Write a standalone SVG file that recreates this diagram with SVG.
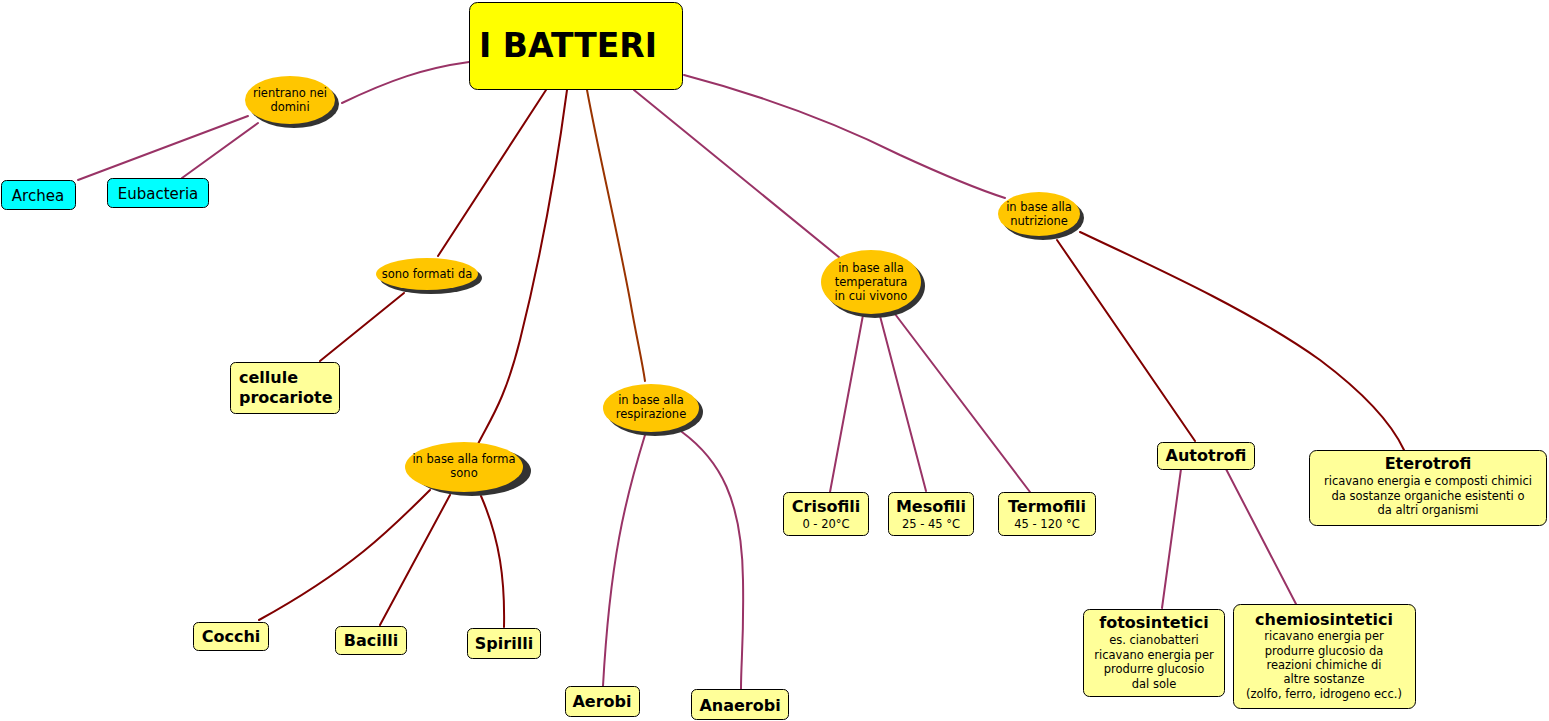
<svg xmlns="http://www.w3.org/2000/svg" width="1549" height="721" viewBox="0 0 1549 721">
<style>
text{font-family:"DejaVu Sans","Verdana",sans-serif;fill:#000}
.c{fill:none;stroke-width:2;stroke-linecap:round}
.p{stroke:#993366}
.r{stroke:#800000}
.b{stroke:#993300}
.ell{fill:#FFC600}
.sh{fill:#333333}
.box{fill:#FFFF99;stroke:#000;stroke-width:1}
.cy{fill:#00FFFF;stroke:#000;stroke-width:1}
.lt{font-size:11.5px;text-anchor:middle}
.bt{font-size:16px;font-weight:bold;text-anchor:middle}
.st{font-size:11.5px;text-anchor:middle}
</style>
<rect width="1549" height="721" fill="#fff"/>
<g id="connectors">
<path class="c p" d="M469,62 C425,68 390,80 342,103"/>
<path class="c p" d="M248,116 L78,180"/>
<path class="c p" d="M258,123 L182,178"/>
<path class="c r" d="M546,90 L438,256"/>
<path class="c r" d="M404,293 L320,361"/>
<path class="c r" d="M567,90 C555,180 540,260 520,340 C505,400 490,420 478,444"/>
<path class="c r" d="M430,490 C390,530 350,570 259,620"/>
<path class="c r" d="M450,495 L380,625"/>
<path class="c r" d="M481,496 C500,540 505,580 504,627"/>
<path class="c b" d="M587,90 C600,160 615,220 630,300 C637,340 642,360 645,381"/>
<path class="c p" d="M645,435 C625,500 610,560 603,686"/>
<path class="c p" d="M682,432 C720,460 742,500 743,580 C744,640 741,660 741,689"/>
<path class="c p" d="M634,90 L840,258"/>
<path class="c p" d="M863,315 L830,492"/>
<path class="c p" d="M880,316 L926,491"/>
<path class="c p" d="M895,314 L1030,492"/>
<path class="c p" d="M684,75 C760,95 830,120 900,155 C950,178 980,190 1005,198"/>
<path class="c r" d="M1057,240 L1195,441"/>
<path class="c r" d="M1080,232 C1150,265 1250,310 1320,360 C1360,390 1390,420 1404,450"/>
<path class="c p" d="M1181,469 L1162,608"/>
<path class="c p" d="M1226,469 L1296,604"/>
</g>
<g id="main">
<rect x="469.5" y="2.5" width="213" height="87" rx="8" fill="#FFFF00" stroke="#000" stroke-width="1"/>
<text x="479" y="57" style="font-size:33px;font-weight:bold">I BATTERI</text>
</g>
<g id="rientrano">
<ellipse class="sh" cx="294" cy="104" rx="45" ry="24"/>
<ellipse class="ell" cx="290" cy="100" rx="45" ry="24"/>
<text class="lt" x="290" y="97">rientrano nei</text>
<text class="lt" x="290" y="111">domini</text>
</g>
<g id="archea">
<rect class="cy" x="1.5" y="180.5" width="74" height="29" rx="5"/>
<text x="38" y="201" style="font-size:15px;text-anchor:middle">Archea</text>
</g>
<g id="eubacteria">
<rect class="cy" x="107.5" y="178.5" width="101" height="29" rx="5"/>
<text x="158" y="199" style="font-size:15px;text-anchor:middle">Eubacteria</text>
</g>
<g id="formati">
<ellipse class="sh" cx="431" cy="278" rx="51" ry="16"/>
<ellipse class="ell" cx="427" cy="274" rx="51" ry="16"/>
<text class="lt" x="427" y="278">sono formati da</text>
</g>
<g id="cellule">
<rect class="box" x="230.5" y="362.5" width="109" height="51" rx="5"/>
<text x="239" y="383" style="font-size:16px;font-weight:bold">cellule</text>
<text x="239" y="403" style="font-size:16px;font-weight:bold">procariote</text>
</g>
<g id="forma">
<ellipse class="sh" cx="472" cy="471" rx="59" ry="25"/>
<ellipse class="ell" cx="464" cy="467" rx="59" ry="25"/>
<text class="lt" x="464" y="463">in base alla forma</text>
<text class="lt" x="464" y="477">sono</text>
</g>
<g id="cocchi">
<rect class="box" x="193.5" y="622.5" width="75" height="28" rx="5"/>
<text class="bt" x="231" y="642">Cocchi</text>
</g>
<g id="bacilli">
<rect class="box" x="335.5" y="626.5" width="71" height="28" rx="5"/>
<text class="bt" x="371" y="646">Bacilli</text>
</g>
<g id="spirilli">
<rect class="box" x="467.5" y="628.5" width="73" height="30" rx="5"/>
<text class="bt" x="504" y="649">Spirilli</text>
</g>
<g id="respirazione">
<ellipse class="sh" cx="655" cy="412" rx="48" ry="24"/>
<ellipse class="ell" cx="651" cy="408" rx="48" ry="24"/>
<text class="lt" x="651" y="404">in base alla</text>
<text class="lt" x="651" y="418">respirazione</text>
</g>
<g id="aerobi">
<rect class="box" x="565.5" y="686.5" width="74" height="30" rx="5"/>
<text class="bt" x="602" y="707">Aerobi</text>
</g>
<g id="anaerobi">
<rect class="box" x="691.5" y="689.5" width="97" height="30" rx="5"/>
<text class="bt" x="740" y="711">Anaerobi</text>
</g>
<g id="temperatura">
<ellipse class="sh" cx="875" cy="286" rx="50" ry="32"/>
<ellipse class="ell" cx="871" cy="282" rx="50" ry="32"/>
<text class="lt" x="871" y="272">in base alla</text>
<text class="lt" x="871" y="286">temperatura</text>
<text class="lt" x="871" y="300">in cui vivono</text>
</g>
<g id="crisofili">
<rect class="box" x="783.5" y="492.5" width="85" height="43" rx="5"/>
<text class="bt" x="826" y="512">Crisofili</text>
<text class="st" x="826" y="528">0 - 20°C</text>
</g>
<g id="mesofili">
<rect class="box" x="888.5" y="492.5" width="85" height="43" rx="5"/>
<text class="bt" x="931" y="512">Mesofili</text>
<text class="st" x="931" y="528">25 - 45 °C</text>
</g>
<g id="termofili">
<rect class="box" x="998.5" y="492.5" width="97" height="43" rx="5"/>
<text class="bt" x="1047" y="512">Termofili</text>
<text class="st" x="1047" y="528">45 - 120 °C</text>
</g>
<g id="nutrizione">
<ellipse class="sh" cx="1043" cy="218" rx="41" ry="22"/>
<ellipse class="ell" cx="1039" cy="214" rx="41" ry="22"/>
<text class="lt" x="1039" y="211">in base alla</text>
<text class="lt" x="1039" y="225">nutrizione</text>
</g>
<g id="autotrofi">
<rect class="box" x="1157.5" y="442.5" width="97" height="27" rx="5"/>
<text class="bt" x="1206" y="461">Autotrofi</text>
</g>
<g id="eterotrofi">
<rect class="box" x="1309.5" y="450.5" width="237" height="75" rx="7"/>
<text class="bt" x="1428" y="469">Eterotrofi</text>
<text class="st" x="1428" y="485">ricavano energia e composti chimici</text>
<text class="st" x="1428" y="499.5">da sostanze organiche esistenti o</text>
<text class="st" x="1428" y="514">da altri organismi</text>
</g>
<g id="fotosintetici">
<rect class="box" x="1083.5" y="609.5" width="141" height="87" rx="6"/>
<text class="bt" x="1154" y="628">fotosintetici</text>
<text class="st" x="1154" y="644">es. cianobatteri</text>
<text class="st" x="1154" y="658.5">ricavano energia per</text>
<text class="st" x="1154" y="673">produrre glucosio</text>
<text class="st" x="1154" y="687.5">dal sole</text>
</g>
<g id="chemiosintetici">
<rect class="box" x="1233.5" y="604.5" width="182" height="104" rx="7"/>
<text class="bt" x="1324" y="625">chemiosintetici</text>
<text class="st" x="1324" y="640">ricavano energia per</text>
<text class="st" x="1324" y="654.5">produrre glucosio da</text>
<text class="st" x="1324" y="669">reazioni chimiche di</text>
<text class="st" x="1324" y="683">altre sostanze</text>
<text class="st" x="1324" y="697.5">(zolfo, ferro, idrogeno ecc.)</text>
</g>
</svg>
